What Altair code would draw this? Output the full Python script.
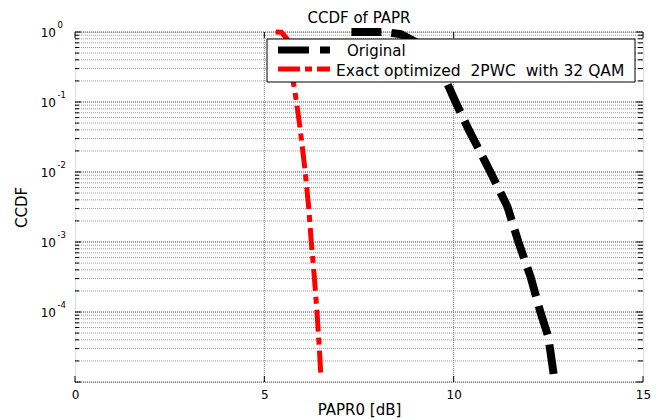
import altair as alt
import pandas as pd

# ---- data ----
chart_title = "CCDF of PAPR"
series_names = ["Original", "Exact optimized\u00a0 2PWC\u00a0 with 32 QAM"]

orig_papr = [7.3, 8.2, 8.6, 9.0, 9.4, 9.8, 10.05, 10.4, 10.97, 11.42, 11.71, 12.03, 12.29, 12.5, 12.64]
orig_ccdf = [1.0, 1.0, 0.93, 0.72, 0.42, 0.2, 0.1, 0.04, 0.01, 3.2e-3, 1e-3, 3.2e-4, 1e-4, 4.4e-5, 1.3e-5]

opt_papr = [5.3, 5.45, 5.6, 5.68, 5.76, 5.85, 5.95, 6.08, 6.17, 6.24, 6.32, 6.39, 6.45, 6.49]
opt_ccdf = [1.0, 0.99, 0.8, 0.4, 0.2, 0.1, 0.04, 0.01, 3.2e-3, 1e-3, 3.2e-4, 1e-4, 3.2e-5, 1.3e-5]

x_ticks = [0, 5, 10, 15]
x_grid = [5, 10]
y_major = [1, 1e-1, 1e-2, 1e-3, 1e-4, 1e-5]
y_label_vals = [1, 1e-1, 1e-2, 1e-3, 1e-4]
y_label_exps = ["0", "-1", "-2", "-3", "-4"]
decades = [-5, -4, -3, -2, -1]
y_minor = [k * 10.0 ** d for d in decades for k in range(2, 10)]

W, H = 568, 350
FONT = "DejaVu Sans"

rows = []
for i, (x, y) in enumerate(zip(orig_papr, orig_ccdf)):
    rows.append({"papr": x, "ccdf": y, "series": series_names[0], "o": i})
for i, (x, y) in enumerate(zip(opt_papr, opt_ccdf)):
    rows.append({"papr": x, "ccdf": y, "series": series_names[1], "o": i})
curves = pd.DataFrame(rows)

xscale = alt.Scale(domain=[0, 15], nice=False)
yscale = alt.Scale(type="log", domain=[1e-5, 1], nice=False)

# grid
hgrid_minor = alt.Chart(pd.DataFrame({"v": y_minor})).mark_rule(
    color="#9a9a9a", strokeWidth=1, strokeDash=[1, 1]
).encode(y=alt.Y("v:Q", scale=yscale), x=alt.value(0), x2=alt.value(W))
hgrid_major = alt.Chart(pd.DataFrame({"v": y_major})).mark_rule(
    color="#444444", strokeWidth=1, strokeDash=[1, 1]
).encode(y=alt.Y("v:Q", scale=yscale), x=alt.value(0), x2=alt.value(W))
vgrid = alt.Chart(pd.DataFrame({"v": x_grid})).mark_rule(
    color="#777777", strokeWidth=1, strokeDash=[1, 1]
).encode(x=alt.X("v:Q", scale=xscale), y=alt.value(0), y2=alt.value(H))

# curves
lines = alt.Chart(curves).mark_line(strokeCap="butt", strokeJoin="miter").encode(
    x=alt.X("papr:Q", scale=xscale,
            axis=alt.Axis(values=x_ticks, title="PAPR0 [dB]", grid=False, ticks=False,
                          tickSize=0, domain=False, labelFlush=False, labelOverlap=False,
                          labelFont=FONT, labelFontSize=12, labelColor="black",
                          labelPadding=7, titleFont=FONT, titleFontSize=15,
                          titleFontWeight="normal", titleColor="black",
                          titleX=W / 2, titleY=27, titleBaseline="middle")),
    y=alt.Y("ccdf:Q", scale=yscale,
            axis=alt.Axis(labels=False, ticks=False, domain=False, grid=False,
                          title="CCDF", titleFont=FONT, titleFontSize=15,
                          titleFontWeight="normal", titleColor="black",
                          titleX=-54, titleY=H / 2, titleAngle=270,
                          titleBaseline="middle", titleAlign="center")),
    color=alt.Color("series:N", scale=alt.Scale(domain=series_names, range=["black", "#ff0000"]),
                    legend=None),
    strokeDash=alt.StrokeDash("series:N", scale=alt.Scale(domain=series_names,
                                                          range=[[30, 10], [22, 6, 7, 6]]),
                              legend=None),
    strokeWidth=alt.StrokeWidth("series:N", scale=alt.Scale(domain=series_names, range=[8, 5]),
                                legend=None),
    detail="series:N",
    order="o:Q",
)

# inward ticks
yt_major_l = alt.Chart(pd.DataFrame({"v": y_major})).mark_rule(color="black").encode(
    y=alt.Y("v:Q", scale=yscale), x=alt.value(0), x2=alt.value(6))
yt_minor_l = alt.Chart(pd.DataFrame({"v": y_minor})).mark_rule(color="black").encode(
    y=alt.Y("v:Q", scale=yscale), x=alt.value(0), x2=alt.value(4))
yt_major_r = alt.Chart(pd.DataFrame({"v": y_major})).mark_rule(color="black").encode(
    y=alt.Y("v:Q", scale=yscale), x=alt.value(W), x2=alt.value(W - 7))
yt_minor_r = alt.Chart(pd.DataFrame({"v": y_minor})).mark_rule(color="black").encode(
    y=alt.Y("v:Q", scale=yscale), x=alt.value(W), x2=alt.value(W - 5))
xt_b = alt.Chart(pd.DataFrame({"v": x_ticks})).mark_rule(color="black").encode(
    x=alt.X("v:Q", scale=xscale), y=alt.value(H), y2=alt.value(H - 6))
xt_t = alt.Chart(pd.DataFrame({"v": x_ticks})).mark_rule(color="black").encode(
    x=alt.X("v:Q", scale=xscale), y=alt.value(0), y2=alt.value(6))

# y tick labels 10^n
ylab = pd.DataFrame({"v": y_label_vals, "exp": y_label_exps, "base": ["10"] * len(y_label_vals)})
ylab_base = alt.Chart(ylab).mark_text(align="right", baseline="middle", font=FONT,
                                      fontSize=12, color="black", dy=1).encode(
    y=alt.Y("v:Q", scale=yscale), x=alt.value(-19), text="base:N")
ylab_exp = alt.Chart(ylab).mark_text(align="left", baseline="middle", font=FONT,
                                     fontSize=8.5, color="black", dy=-7).encode(
    y=alt.Y("v:Q", scale=yscale), x=alt.value(-17.5), text="exp:N")

# title as a text mark above the plot
title_mark = alt.Chart(pd.DataFrame({"t": [chart_title]})).mark_text(
    align="center", baseline="alphabetic", font=FONT, fontSize=15, color="black").encode(
    x=alt.value(W / 2), y=alt.value(-9), text="t:N")

# legend (drawn on top of curves)
leg_df = pd.DataFrame({"name": series_names})
leg_box = alt.Chart(pd.DataFrame({"a": [0]})).mark_rect(
    fill="white", stroke="black", strokeWidth=1).encode(
    x=alt.value(192), x2=alt.value(560), y=alt.value(7), y2=alt.value(50))
leg_s1 = alt.Chart(leg_df.iloc[[0]]).mark_rule(color="black", strokeWidth=7,
                                               strokeDash=[31, 11], strokeCap="butt").encode(
    x=alt.value(203), x2=alt.value(255), y=alt.value(18))
leg_s2 = alt.Chart(leg_df.iloc[[1]]).mark_rule(color="#ff0000", strokeWidth=5,
                                               strokeDash=[22, 5, 7, 5], strokeCap="butt").encode(
    x=alt.value(203), x2=alt.value(255), y=alt.value(37))
leg_t1 = alt.Chart(leg_df.iloc[[0]]).mark_text(align="left", baseline="middle", font=FONT,
                                               fontSize=15, color="black").encode(
    x=alt.value(272), y=alt.value(19), text="name:N")
leg_t2 = alt.Chart(leg_df.iloc[[1]]).mark_text(align="left", baseline="middle", font=FONT,
                                               fontSize=15.5, color="black").encode(
    x=alt.value(261), y=alt.value(38.5), text="name:N")

chart = alt.layer(
    hgrid_minor, hgrid_major, vgrid, lines,
    yt_major_l, yt_minor_l, yt_major_r, yt_minor_r, xt_b, xt_t,
    ylab_base, ylab_exp, title_mark,
    leg_box, leg_s1, leg_s2, leg_t1, leg_t2,
).properties(
    width=W, height=H,
    autosize=alt.AutoSizeParams(type="none"),
    padding={"left": 67, "top": 24, "right": 12, "bottom": 38},
).configure_view(stroke="black", strokeWidth=1).configure(background="white")

chart.save("out.html", embed_options={"renderer": "svg", "actions": False})
